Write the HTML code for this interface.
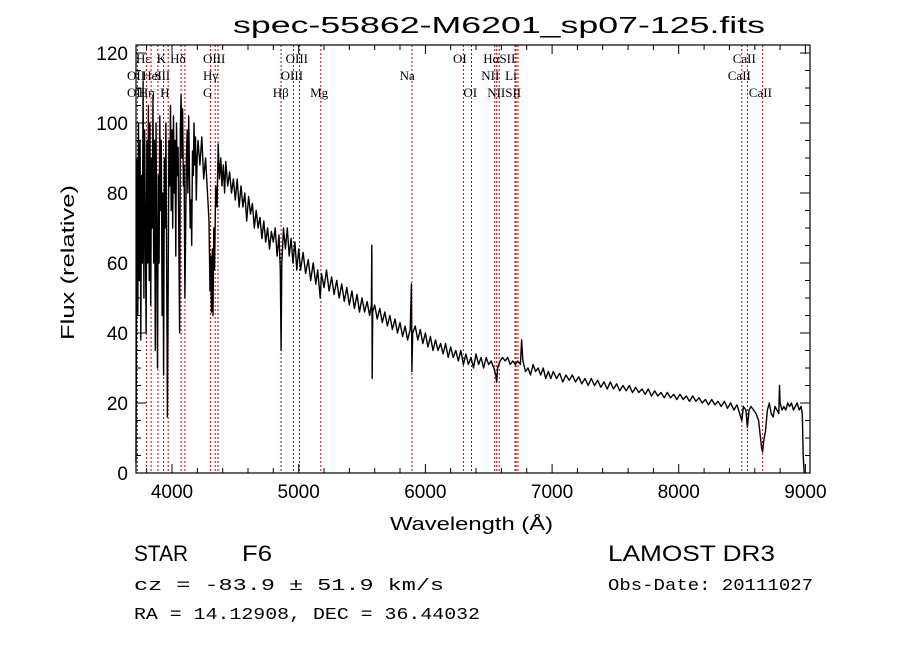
<!DOCTYPE html>
<html><head><meta charset="utf-8"><style>
html,body{margin:0;padding:0;background:#fff;}
svg{display:block;}
text{font-family:"Liberation Sans",sans-serif;fill:#000;}
.m{font-family:"Liberation Mono",monospace;}
.s{font-family:"Liberation Serif",serif;font-size:13px;}
</style></head><body>
<svg id="chart" width="900" height="649" viewBox="0 0 900 649" xmlns="http://www.w3.org/2000/svg">
<rect width="900" height="649" fill="#fff"/>
<text x="233" y="33" font-size="23" textLength="532" lengthAdjust="spacingAndGlyphs">spec-55862-M6201_sp07-125.fits</text>
<g id="lines"></g>
<g id="labels"></g>
<path id="spec" fill="none" stroke="#000" stroke-width="1.4" stroke-linejoin="round"/>
<g id="axes"></g>
<text x="390" y="530" font-size="18" textLength="163" lengthAdjust="spacingAndGlyphs">Wavelength (Å)</text>
<text transform="translate(74,340) rotate(-90)" font-size="18" textLength="155" lengthAdjust="spacingAndGlyphs">Flux (relative)</text>
<text x="134" y="561" font-size="22" textLength="54" lengthAdjust="spacingAndGlyphs">STAR</text>
<text x="242" y="561" font-size="22" textLength="30" lengthAdjust="spacingAndGlyphs">F6</text>
<text x="608" y="561" font-size="22" textLength="167" lengthAdjust="spacingAndGlyphs">LAMOST DR3</text>
<text class="m" x="134" y="590" font-size="17" textLength="310" lengthAdjust="spacingAndGlyphs">cz = -83.9 ± 51.9 km/s</text>
<text class="m" x="608" y="590" font-size="17" textLength="205" lengthAdjust="spacingAndGlyphs">Obs-Date: 20111027</text>
<text class="m" x="134" y="619" font-size="17" textLength="346" lengthAdjust="spacingAndGlyphs">RA =  14.12908, DEC =  36.44032</text>
</svg>
<script>
const waveA=[3716,3719,3724,3730,3736,3742,3748,3754,3760,3766,3772,3778,3784,3790,3796,3802,3808,3814,3820,3826,3832,3838,3844,3850,3856,3862,3868,3874,3880,3886,3892,3898,3904,3910,3916,3922,3928,3934,3940,3946,3952,3958,3964,3970,3976,3982,3988,3994,4000,4006,4012,4018,4024,4030,4036,4042,4048,4054,4060,4066,4072,4078,4084,4090,4096,4102,4108,4114,4120,4126,4132,4138,4144,4150,4156,4162,4168,4174,4180,4186,4192,4198];
const fluxA=[3,40,90,45,100,55,95,38,85,60,112,50,98,70,40,95,60,105,55,100,48,90,70,108,60,95,35,100,65,30,85,60,102,75,95,45,80,28,90,70,100,58,16,55,95,82,105,75,98,70,102,80,95,62,100,85,93,68,40,98,108,90,104,82,88,50,70,90,98,80,102,85,70,78,65,92,85,100,88,96,78,90];
const waveB=[4205,4220,4235,4250,4265,4280,4292,4300,4306,4312,4318,4324,4330,4336,4345,4355,4365,4375,4385,4395,4405,4415,4425,4440,4455,4470,4485,4500,4515,4530,4545,4560,4575,4590,4605,4620,4635,4650,4665,4680,4695,4710,4725,4740,4755,4770,4785,4800,4815,4830,4845,4855,4861,4867,4880,4895,4910,4925,4940,4955,4970,4985,5000];
const fluxB=[95,88,96,84,90,80,72,52,62,46,64,45,70,58,82,76,94,84,90,82,88,80,89,82,86,80,84,78,84,76,82,76,80,72,79,74,77,70,75,70,73,67,72,66,70,64,69,66,70,62,68,58,35,60,70,64,70,62,67,60,66,58,64];
const waveC=[5015,5035,5055,5075,5095,5115,5135,5150,5170,5180,5200,5220,5240,5260,5280,5300,5320,5340,5360,5380,5400,5420,5440,5460,5480,5500,5520,5540,5560,5574,5577,5580,5584,5600,5620,5640,5660,5680,5700,5720,5740,5760,5780,5800,5820,5840,5860,5880,5890,5894,5900,5920,5940,5960,5980,6000,6020,6040,6060,6080,6100,6120,6140,6160,6180,6200,6220,6240,6260,6280,6300,6320,6340,6360,6380,6400,6420,6440,6460,6480,6500,6520,6540,6556,6563,6570,6590,6610,6630,6650,6670,6690,6710,6730,6750,6760,6770,6790,6810,6830,6850,6870,6890,6910,6930,6950,6970,6990];
const fluxC=[58,63,57,61,55,60,54,58,50,57,53,58,52,56,51,55,50,54,49,53,48,52,47,51,46,50,46,49,45,48,65,27,46,48,44,47,43,46,42,45,41,44,40,43,39,42,38,41,54,29,40,42,38,41,37,40,36,39,35,38,35,37,34,37,33,36,33,35,32,35,31,34,31,33,30,34,31,33,30,33,31,32,30,28,26,30,32,33,32,33,31,32,31,32,31,38,32,29,30,28,31,29,30,28,30,27,29,27];
const waveD=[7010,7035,7060,7085,7110,7135,7160,7185,7210,7235,7260,7285,7310,7335,7360,7385,7410,7435,7460,7485,7510,7535,7560,7585,7610,7635,7660,7685,7710,7735,7760,7785,7810,7835,7860,7885,7910,7935,7960,7985,8010,8035,8060,8085,8110,8135,8160,8185,8210,8235,8260,8285,8310,8335,8360,8385,8410,8435,8460,8480,8498,8510,8530,8542,8555,8570,8590,8610,8630,8645,8655,8662,8670,8685,8700,8715,8730,8745,8760,8775,8790,8795,8800,8815,8830,8845,8860,8875,8890,8905,8920,8935,8950,8965,8975,8982,8990];
const fluxD=[29,27,28.5,26,28,26.5,28,26,27.5,25.5,27,25,27,25,26.5,24.5,26,24,26,24,25.5,23.5,25,23.5,25,23,24.5,23,24,22.5,24,22,23.5,22,23,21.5,23,21.5,22.5,21,22.5,21,22,20.5,22,20.5,21.5,20,21,19.5,21,19.5,20.5,19,20.5,18.5,20,18,19.5,17,15,19,18,13,18,19,18,17,15,10,7,6,9,12,18,20,17,16,19,18,17,25,20,18,19,18,20,19,20,18,19,20,18,19,17,5,0];
const lineWaves=[3727,3798,3835,3889,3934,3970,4072,4102,4304,4341,4363,4861,4959,5007,5175,5894,6300,6364,6548,6563,6583,6708,6716,6731,8498,8542,8662];
const labelTexts=["Hε","K","Hδ","OIII","OIII","OI","HαSII","CaII","OII","HeI","SII","Hγ","OIII","Na","NII","Li","CaII","OII","Hη","H","G","Hβ","Mg","OI","NIISII","CaII"];
const labelWaves=[3716,3880,3985,4245,4897,6218,6457,8426,3645,3765,3860,4245,4858,5797,6441,6630,8387,3645,3738,3906,4245,4795,5090,6300,6488,8553];
const labelRows=[0,0,0,0,0,0,0,0,1,1,1,1,1,1,1,1,1,2,2,2,2,2,2,2,2,2];
const xTicks=[4000,5000,6000,7000,8000,9000];
const yTicks=[0,20,40,60,80,100,120];

const X0=136,X1=810,Y0=473,Y1=45;
const W0=3716,W1=9036,F0=0,F1=122.3;
const xs=w=>X0+(w-W0)/(W1-W0)*(X1-X0);
const ys=f=>Y0-(f-F0)/(F1-F0)*(Y0-Y1);
const NS="http://www.w3.org/2000/svg";
function mk(tag,parent){const e=document.createElementNS(NS,tag);parent.appendChild(e);return e;}

const wave=waveA.concat(waveB,waveC,waveD);
const flux=fluxA.concat(fluxB,fluxC,fluxD);
let d="";
const n=Math.min(wave.length,flux.length);
for(let i=0;i<n;i++){d+=(i?"L":"M")+xs(wave[i]).toFixed(1)+","+ys(flux[i]).toFixed(1);}
document.getElementById("spec").setAttribute("d",d);

const lg=document.getElementById("lines");
lineWaves.forEach(w=>{
  const l=mk("line",lg);
  
  
  const x=xs(w);
  l.setAttribute("x1",x);l.setAttribute("x2",x);l.setAttribute("y1",Y1);l.setAttribute("y2",Y0);
  l.setAttribute("stroke","#c00000");l.setAttribute("stroke-width","1");l.setAttribute("stroke-dasharray","2,2");
});
const lb=document.getElementById("labels");
const rowY=[63,80,97];
labelTexts.forEach((t,i)=>{
  const e=mk("text",lb);
  
  
  e.setAttribute("class","s");
  e.setAttribute("x",xs(labelWaves[i]));e.setAttribute("y",rowY[labelRows[i]]);
  e.textContent=t;
});

const ax=document.getElementById("axes");
const fr=mk("rect",ax);


fr.setAttribute("x",X0);fr.setAttribute("y",Y1);fr.setAttribute("width",X1-X0);fr.setAttribute("height",Y0-Y1);
fr.setAttribute("fill","none");fr.setAttribute("stroke","#000");fr.setAttribute("stroke-width","1.2");
let td="";
for(let w=3800;w<=W1;w+=200){const x=xs(w).toFixed(1);const L=(w%1000===0)?9:5;td+=`M${x},${Y0}v${-L}M${x},${Y1}v${L}`;}
for(let f=0;f<=F1;f+=5){const y=ys(f).toFixed(1);const L=(f%20===0)?10:5;td+=`M${X0},${y}h${L}M${X1},${y}h${-L}`;}
const tp=mk("path",ax);


tp.setAttribute("d",td);tp.setAttribute("stroke","#000");tp.setAttribute("stroke-width","1");
xTicks.forEach(v=>{
  const t=mk("text",ax);
  
  
  t.setAttribute("x",xs(v));t.setAttribute("y",Y0+25);t.setAttribute("text-anchor","middle");t.setAttribute("font-size","19");
  t.textContent=v;
});
yTicks.forEach(v=>{
  const t=mk("text",ax);
  
  
  t.setAttribute("x",X0-8);t.setAttribute("y",ys(v)+7);t.setAttribute("text-anchor","end");t.setAttribute("font-size","19");
  t.textContent=v;
});
</script>
</body></html>
